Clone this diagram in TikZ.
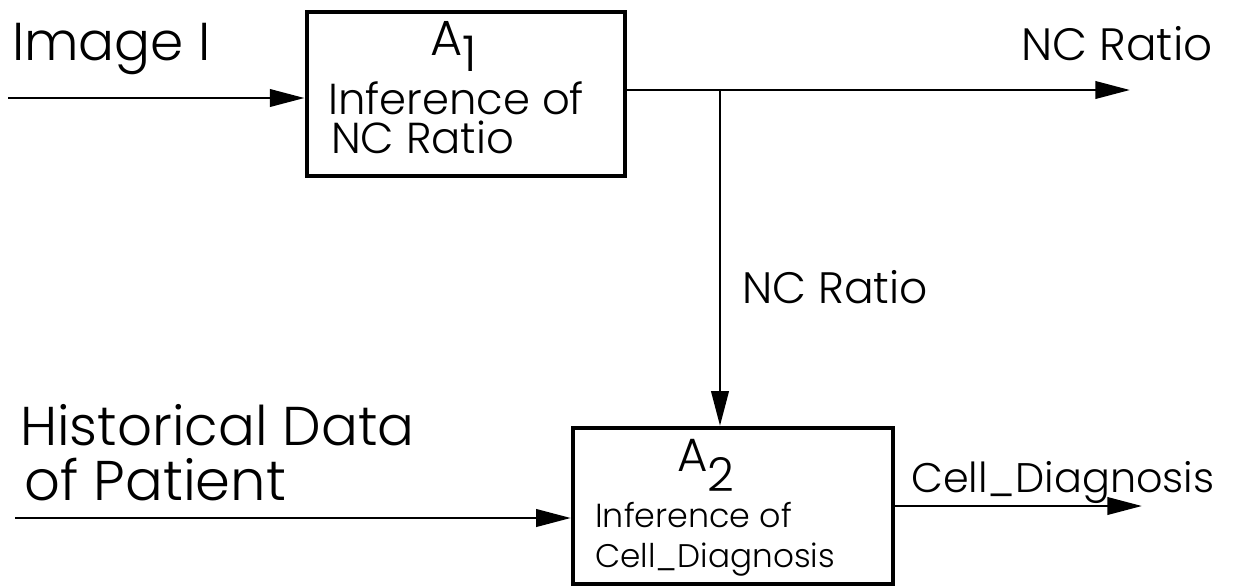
\documentclass[tikz,border=0pt]{standalone}
\usepackage{fontspec}
\setmainfont{Poppins}[UprightFont={* Light}]
\usetikzlibrary{arrows.meta}
\begin{document}
\begin{tikzpicture}[x=0.75pt,y=-0.75pt,
  line/.style={line width=2.1pt},
  arr/.style={line, -{Triangle[length=26pt,width=13pt]}},
  block/.style={draw, line width=3.2pt, inner sep=0pt},
  lbl/.style={anchor=base west, inner sep=0pt},
]
\useasboundingbox (0,0) rectangle (1240,587);

% function blocks
\node[block, minimum width=239pt, minimum height=123pt] (A1) at (466,94) {};
\node[block, minimum width=240pt, minimum height=117pt] (A2) at (733,506) {};

% block titles and captions
\node[lbl, font=\fontsize{37}{37}\selectfont] (t1) at (430,55) {A\raisebox{-12pt}[\height][0pt]{1}};
\node[lbl, font=\fontsize{32.5}{36}\selectfont] (c1) at (328,114) {Inference of};
\node[lbl, font=\fontsize{32.5}{36}\selectfont] (c1b) at (331,153) {NC Ratio};
\node[lbl, font=\fontsize{35}{35}\selectfont] (t2) at (677,471) {A\raisebox{-15pt}[\height][0pt]{2}};
\node[lbl, font=\fontsize{25}{30}\selectfont] (c2) at (595,527) {Inference of};
\node[lbl, font=\fontsize{24.5}{30}\selectfont] (c2b) at (595,567) {Cell\_Diagnosis};

% flow labels
\node[lbl, font=\fontsize{40}{40}\selectfont] (in1l) at (12,60) {Image I};
\node[lbl, font=\fontsize{34}{34}\selectfont] (out1l) at (1021,60) {NC Ratio};
\node[lbl, font=\fontsize{33}{33}\selectfont] (midl) at (742,303) {NC Ratio};
\node[lbl, font=\fontsize{41}{41}\selectfont] (in2l) at (20,445) {Historical Data};
\node[lbl, font=\fontsize{42}{42}\selectfont] (in2lb) at (24,500) {of Patient};
\node[lbl, font=\fontsize{31}{31}\selectfont] (out2l) at (911,492) {Cell\_Diagnosis};

% connector ends
\coordinate (in1) at (8,98);
\coordinate (j) at (720,90);
\coordinate (out1) at (1130,90);
\coordinate (in2) at (15,518);
\coordinate (out2) at (1142,506);

% connectors
\draw[arr] (in1) -- (in1 -| A1.west);
\draw[arr] (j -| A1.east) -- (out1);
\draw[arr] (j) -- (j |- A2.north);
\draw[arr] (in2) -- (in2 -| A2.west);
\draw[arr] (out2 -| A2.east) -- (out2);
\end{tikzpicture}
\end{document}
